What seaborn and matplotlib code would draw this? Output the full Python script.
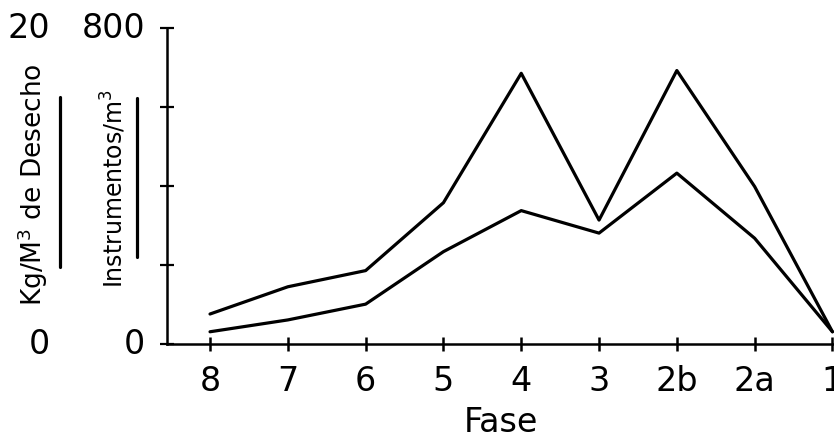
import matplotlib
matplotlib.use("Agg")
import matplotlib.pyplot as plt
import matplotlib.transforms as mtransforms
from matplotlib.lines import Line2D
import seaborn as sns
import pandas as pd

# ---- data ----
fases = ["8", "7", "6", "5", "4", "3", "2b", "2a", "1"]
instrumentos = [76, 145, 186, 358, 686, 314, 693, 399, 31]     # Instrumentos/m3 (0-800 scale)
desecho = [31, 61, 101, 234, 338, 281, 433, 268, 31]           # Kg/M3 de Desecho (plotted on same frame)
left_scale_labels = ["20", "0"]
right_scale_labels = ["800", "0"]
y_ticks = [0, 200, 400, 600, 800]

sns.set_theme(style="white")
plt.rcParams["font.family"] = ["DejaVu Sans"]

W, H = 834, 438
fig = plt.figure(figsize=(W / 100, H / 100), dpi=100)
ax_left = 167 / W
ax_bottom = (H - 344) / H
ax_top = (H - 28.3) / H
ax = fig.add_axes([ax_left, ax_bottom, 1 - ax_left, ax_top - ax_bottom])

df = pd.DataFrame({
    "Fase": fases * 2,
    "valor": instrumentos + desecho,
    "serie": ["Instrumentos"] * len(fases) + ["Desecho"] * len(fases),
})
sns.lineplot(data=df, x="Fase", y="valor", hue="serie", sort=False,
             palette=["black", "black"], linewidth=2.3, legend=False, ax=ax)

ax.set_xlim(-0.553, 8.02)
ax.set_ylim(0, 800)
ax.set_yticks(y_ticks)
ax.set_yticklabels([])
ax.set_ylabel("")
ax.set_xlabel("Fase", fontsize=24, labelpad=6, color="black")

for s in ["top", "right"]:
    ax.spines[s].set_visible(False)
for s in ["left", "bottom"]:
    ax.spines[s].set_color("black")
    ax.spines[s].set_linewidth(1.8)

ax.tick_params(axis="x", bottom=True, direction="inout", length=10, width=1.8,
               colors="black", labelsize=24, pad=10)
ax.tick_params(axis="y", left=True, direction="inout", length=10, width=1.6,
               colors="black")
ax.grid(False)

# scale labels on the left (y in data units, x in figure fraction)
trans = mtransforms.blended_transform_factory(fig.transFigure, ax.transData)
ax.text(50 / W, 800, left_scale_labels[0], transform=trans, ha="right", va="center",
        fontsize=24, color="black")
ax.text(50 / W, 0, left_scale_labels[1], transform=trans, ha="right", va="center",
        fontsize=24, color="black")
ax.text(145 / W, 800, right_scale_labels[0], transform=trans, ha="right", va="center",
        fontsize=24, color="black")
ax.text(145 / W, 0, right_scale_labels[1], transform=trans, ha="right", va="center",
        fontsize=24, color="black")

# rotated series labels with vertical line keys
fig.text(33 / W, (H - 185) / H, r"Kg/M$^3$ de Desecho", rotation=90,
         ha="center", va="center", fontsize=19, color="black")
fig.text(114 / W, (H - 188) / H, r"Instrumentos/m$^3$", rotation=90,
         ha="center", va="center", fontsize=17, color="black")
fig.add_artist(Line2D([60 / W, 60 / W], [(H - 97) / H, (H - 267) / H],
                      transform=fig.transFigure, color="black", linewidth=2.3))
fig.add_artist(Line2D([137 / W, 137 / W], [(H - 98) / H, (H - 257) / H],
                      transform=fig.transFigure, color="black", linewidth=2.3))

fig.savefig("out.png", dpi=100, facecolor="white")
